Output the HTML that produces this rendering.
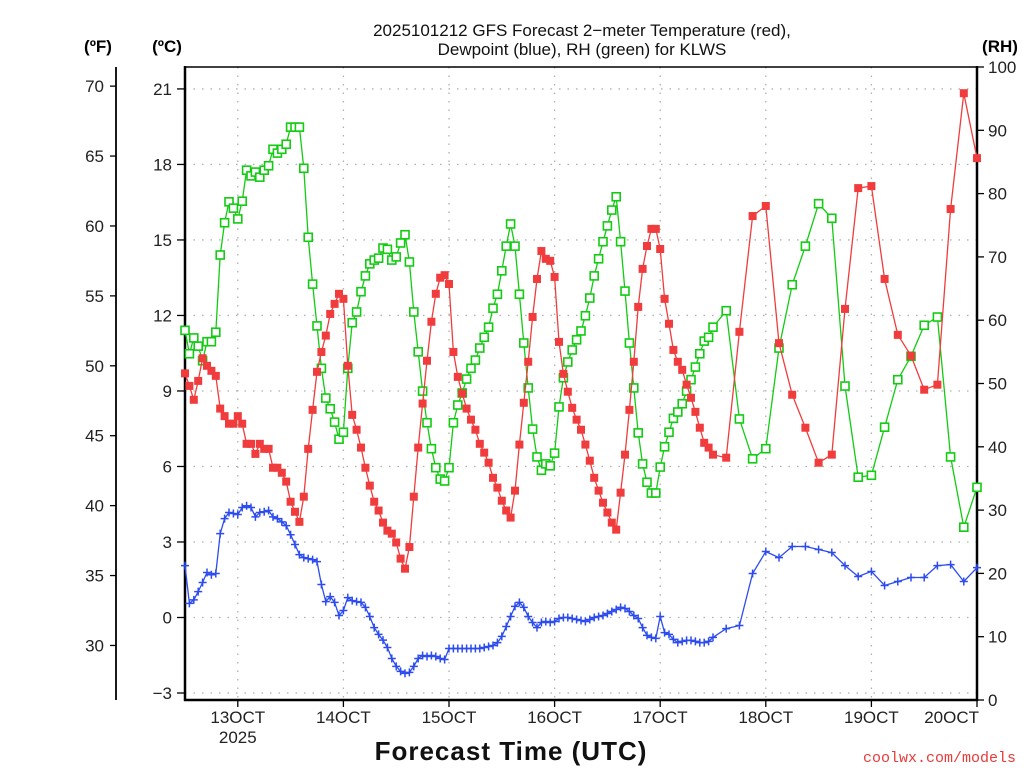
<!DOCTYPE html>
<html><head><meta charset="utf-8"><style>
html,body{margin:0;padding:0;background:#fff;width:1024px;height:768px;overflow:hidden}
svg{display:block;font-family:"Liberation Sans",sans-serif}
</style></head><body>
<svg id="chart" width="1024" height="768" viewBox="0 0 1024 768"></svg>
<script>
const tempC=[9.7,9.2,8.65,9.4,10.3,10.0,9.8,9.6,8.3,8.0,7.7,7.7,8.0,7.7,6.9,6.9,6.5,6.9,6.7,6.7,5.95,5.95,5.75,5.4,4.6,4.2,3.8,4.8,6.7,8.25,9.76,10.55,11.2,12.06,12.46,12.86,12.66,10.0,8.05,7.46,6.75,5.95,5.24,4.6,4.25,3.77,3.45,3.33,2.98,2.34,1.94,2.8,4.8,6.75,8.5,10.2,11.75,12.86,13.5,13.6,13.25,10.55,9.56,
8.9,8.3,7.86,7.46,6.9,6.55,6.15,5.55,5.16,4.64,4.25,3.97,5.04,6.87,8.53,10.16,11.94,13.45,14.56,14.25,14.17,13.53,10.95,9.68,8.97,8.33,7.86,7.46,6.87,6.23,5.55,5.04,4.56,4.17,3.77,3.49,4.96,6.47,8.25,10.16,12.34,13.85,14.76,15.44,15.44,14.64,12.66,11.67,10.63,10.16,9.84,9.25,8.73,8.17,7.54,6.94,6.75,6.47,
6.35,11.35,15.95,16.35,10.9,8.85,7.54,6.15,6.47,12.26,17.06,17.14,13.45,11.23,10.4,9.05,9.25,16.23,20.83,18.25];
const dewC=[2.06,0.56,0.7,1.03,1.39,1.79,1.7,1.75,3.33,3.93,4.17,4.13,4.09,4.37,4.44,4.37,4.0,4.17,4.2,4.25,4.0,3.93,3.8,3.65,3.29,2.9,2.5,2.38,2.34,2.3,2.22,1.31,0.63,0.83,0.6,0.08,0.28,0.79,0.67,0.63,0.6,0.4,0.04,-0.4,-0.67,-0.9,-1.19,-1.63,-1.94,-2.14,-2.22,-2.18,-1.94,-1.63,-1.51,-1.55,-1.51,-1.55,-1.63,-1.67,-1.23,
-1.23,-1.23,-1.23,-1.23,-1.23,-1.23,-1.23,-1.19,-1.15,-1.11,-1.0,-0.75,-0.36,0.04,0.44,0.6,0.4,0.04,-0.2,-0.4,-0.2,-0.16,-0.2,-0.16,-0.04,0,0,-0.04,-0.08,-0.12,-0.16,-0.08,0,0.04,0.08,0.16,0.24,0.32,0.4,0.36,0.24,0.08,-0.04,-0.4,-0.71,-0.79,-0.83,0.04,-0.6,-0.67,-0.87,-1.0,-0.95,-0.91,-0.91,-0.95,-1.0,-1.0,-0.95,-0.79,
-0.44,-0.32,1.75,2.62,2.38,2.82,2.82,2.7,2.58,2.06,1.63,1.83,1.27,1.43,1.59,1.59,2.06,2.1,1.43,1.98];
const rh=[58.4,54.7,57.2,55.9,53.6,56.6,56.6,58.1,70.3,75.4,78.7,77.7,76.0,78.8,83.7,82.8,83.4,82.6,83.7,84.4,87.0,86.4,87.0,87.8,90.5,90.5,90.5,84.0,73.1,65.7,59.1,52.4,47.7,46.0,43.9,41.2,42.3,52.4,59.6,61.3,64.5,67.0,68.9,69.5,69.8,71.4,71.2,69.5,70.0,72.2,73.5,69.2,61.3,55.0,48.8,43.8,39.7,36.7,34.9,34.6,36.7,43.8,46.6,
48.5,50.7,52.4,53.7,55.6,57.3,58.9,61.9,64.1,67.8,71.7,75.2,71.7,64.1,56.4,49.3,42.8,38.4,36.3,37.3,37.0,39.0,46.3,50.9,53.4,55.3,56.9,58.3,60.7,63.5,67.0,69.7,72.4,74.9,77.4,79.5,72.4,64.6,56.4,49.3,42.2,37.3,34.4,32.7,32.7,36.8,40.0,42.3,44.5,45.5,46.8,48.8,50.6,52.6,54.7,56.7,57.3,58.9,
61.5,44.4,38.1,39.7,55.6,65.6,71.7,78.4,76.1,49.6,35.2,35.5,43.1,50.6,54.3,59.2,60.5,38.4,27.3,33.6];
const dayLabels=["13OCT","14OCT","15OCT","16OCT","17OCT","18OCT","19OCT","20OCT"];
const cTicks=[-3,0,3,6,9,12,15,18,21];
const fTicks=[30,35,40,45,50,55,60,65,70];
const rhTicks=[0,10,20,30,40,50,60,70,80,90,100];

const hours=[];for(let h=0;h<=120;h++)hours.push(h);for(let h=123;h<=180;h+=3)hours.push(h);
const L=185,R=977,T=67,B=700;
const X=h=>L+(h+0)*(R-L)/180;
const YC=c=>617.5-25.17*c;
const YR=r=>B-(B-T)*r/100;
const NS="http://www.w3.org/2000/svg";
const svg=document.getElementById('chart');
function mk(tag,at,parent){const e=document.createElementNS(NS,tag);for(const k in at)e.setAttribute(k,at[k]);(parent||svg).appendChild(e);return e;}
function txt(s,at){const e=mk('text',at);e.textContent=s;return e;}

// grid
const grid=mk('g',{stroke:'#b0b0b0','stroke-width':1.3,'stroke-dasharray':'1.5,7'});


dayLabels.forEach((d,i)=>{const x=X(12+24*i);if(x<R-2)mk('line',{x1:x,y1:T,x2:x,y2:B},grid);});
cTicks.forEach(c=>{const y=YC(c);mk('line',{x1:L,y1:y,x2:R,y2:y},grid);});

// frame
mk('line',{x1:L,y1:T,x2:R,y2:T,stroke:'#000','stroke-width':1.5});
const la=mk('line',{x1:L,y1:T-1,x2:L,y2:B+1,stroke:'#000','stroke-width':2.5});

mk('line',{x1:L-1,y1:B,x2:R+1,y2:B,stroke:'#000','stroke-width':2.5});
const ra=mk('line',{x1:R,y1:T-1,x2:R,y2:B+1,stroke:'#000','stroke-width':2.5});

const fa=mk('line',{x1:116,y1:T,x2:116,y2:B,stroke:'#000','stroke-width':1.8});


const lab={fill:'#222','font-size':17};
cTicks.forEach(c=>{const y=YC(c);mk('line',{x1:L-8,y1:y,x2:L,y2:y,stroke:'#000','stroke-width':1.3});
 const t=txt(c<0?'\u2212'+(-c):String(c),Object.assign({x:172,y:y+6,'text-anchor':'end'},lab));
 });
fTicks.forEach(f=>{const y=YC((f-32)*5/9);mk('line',{x1:110,y1:y,x2:116,y2:y,stroke:'#000','stroke-width':1.3});
 const t=txt(String(f),Object.assign({x:104,y:y+6,'text-anchor':'end'},lab));
 });
rhTicks.forEach(r=>{const y=YR(r);mk('line',{x1:R,y1:y,x2:R+7,y2:y,stroke:'#000','stroke-width':1.3});
 const t=txt(String(r),Object.assign({x:988,y:y+6,'text-anchor':'start'},lab));
 });
dayLabels.forEach((d,i)=>{const x=X(12+24*i);mk('line',{x1:x,y1:B,x2:x,y2:B+7,stroke:'#000','stroke-width':1.3});
 const t=txt(d,Object.assign({x:i==7?x+2:x,y:723,'text-anchor':i==7?'end':'middle'},lab));
 });
let t=txt('2025',Object.assign({x:X(12),y:743,'text-anchor':'middle'},lab));


t=txt('(ºF)',{x:98,y:52,'text-anchor':'middle','font-size':17,'font-weight':'bold'});

t=txt('(ºC)',{x:167,y:52,'text-anchor':'middle','font-size':17,'font-weight':'bold'});

t=txt('(RH)',{x:1000,y:52,'text-anchor':'middle','font-size':17,'font-weight':'bold'});

t=txt('2025101212 GFS Forecast 2\u2212meter Temperature (red),',{x:582,y:36,'text-anchor':'middle','font-size':17,fill:'#111'});

t=txt('Dewpoint (blue), RH (green) for KLWS',{x:582,y:55,'text-anchor':'middle','font-size':17,fill:'#111'});

t=txt('Forecast Time (UTC)',{x:511,y:760,'text-anchor':'middle','font-size':26,'font-weight':'bold',fill:'#111','letter-spacing':'1'});

t=txt('coolwx.com/models',{x:1016,y:762,'text-anchor':'end','font-size':15,fill:'#e83a3a','font-family':'Liberation Mono, monospace'});


function series(vals,yf,color,name,marker){
 const g=mk('g',{});
 
 
 const pts=vals.map((v,i)=>X(hours[i]).toFixed(1)+','+yf(v).toFixed(1)).join(' ');
 mk('polyline',{points:pts,fill:'none',stroke:color,'stroke-width':1.3},g);
 vals.forEach((v,i)=>{const x=X(hours[i]),y=yf(v);let m;
  if(marker=='fill')m=mk('rect',{x:x-4,y:y-4,width:8,height:8,fill:color},g);
  else if(marker=='open')m=mk('rect',{x:x-4,y:y-4,width:8,height:8,fill:'#fff',stroke:color,'stroke-width':1.6},g);
  else m=mk('path',{d:`M${x-4},${y}h8M${x},${y-4}v8`,stroke:color,'stroke-width':1.5},g);
  
  });
}
series(rh,YR,'#11cc11','rh-series','open');
series(tempC,YC,'#f03c3c','temperature-series','fill');
series(dewC,YC,'#2d4cf0','dewpoint-series','plus');
</script>
</body></html>
